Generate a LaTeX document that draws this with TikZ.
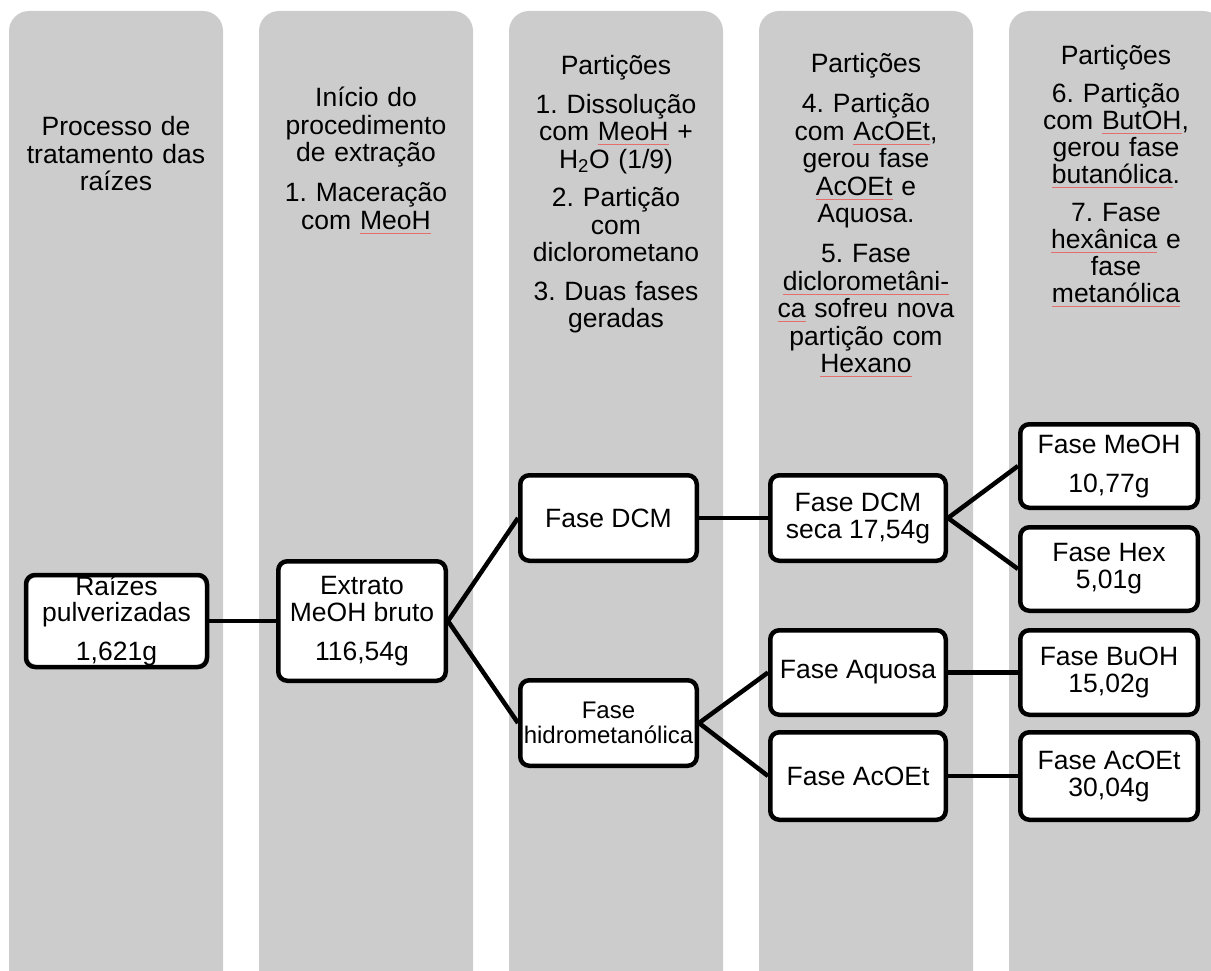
\documentclass[tikz,border=0pt]{standalone}
\usepackage{fontspec}
\setmainfont{Liberation Sans}
\frenchspacing
\definecolor{colgray}{RGB}{204,204,204}
\definecolor{squig}{RGB}{226,110,110}
\newcommand\sq[1]{\leavevmode\setbox0=\hbox{#1}\rlap{\textcolor{squig}{\rule[-4pt]{\wd0}{0.9pt}}}#1}
\begin{document}
\begin{tikzpicture}[x=1pt,y=-1pt,
  colbg/.style={fill=colgray, rounded corners=20pt},
  hdr/.style={anchor=base, text width=212pt, align=center, inner sep=0pt, font=\fontsize{26.5}{27.5}\selectfont},
  box/.style={fill=white, draw=black, line width=4.5pt, rounded corners=9pt, align=center, inner sep=0pt, font=\fontsize{26.5}{27}\selectfont},
  boxtxt/.style={align=center, inner sep=0pt, font=\fontsize{26.5}{26}\selectfont},
  border/.style={draw=black, line width=4.5pt, rounded corners=9pt},
  link/.style={line width=4.5pt}]
\useasboundingbox (0,0) rectangle (1211,971);
\clip (0,0) rectangle (1211,971);
% columns
\foreach \k in {0,...,4}{
  \fill[colbg] (9+250*\k,11) rectangle (223+250*\k,995);
}
% header texts
\node[hdr] (h1) at (116,136) {Processo de\\tratamento das\\raízes};
\node[hdr] (h2) at (366,107) {Início do\\procedimento\\de extração\\[12.5pt]1. Maceração\\com \sq{MeoH}};
\node[hdr] (h3) at (616,75) {Partições\\[11pt]1. Dissolução\\com \sq{MeoH} +\\H\textsubscript{2}O (1/9)\\[11pt]2. Partição\\com\\diclorometano\\[11pt]3. Duas fases\\geradas};
\node[hdr] (h4) at (866,73) {Partições\\[12.5pt]4. Partição\\com \sq{AcOEt},\\gerou fase\\\sq{AcOEt} e\\Aquosa.\\[12.5pt]5. Fase\\\sq{diclorometâni-}\\\sq{ca} sofreu nova\\partição com\\\sq{Hexano}};
\node[hdr, font=\fontsize{26.5}{27}\selectfont] (h5) at (1116,65) {Partições\\[11pt]6. Partição\\com \sq{ButOH},\\gerou fase\\\sq{butanólica}.\\[11pt]7. Fase\\\sq{hexânica} e\\fase\\\sq{metanólica}};
% boxes
\node[box, draw=none, minimum width=176.5pt, minimum height=87.5pt] (raiz) at (116.5,621) {};
\node[box, minimum width=167.5pt, minimum height=119.5pt] (extr) at (362,621) {Extrato\\MeOH bruto\\[12pt]116,54g};
\node[box, minimum width=176.5pt, minimum height=85.5pt] (dcm) at (608.5,518) {Fase DCM};
\node[box, minimum width=176.5pt, minimum height=85.5pt, font=\fontsize{24}{25}\selectfont] (hidro) at (608.5,723) {Fase\\hidrometanólica};
\node[box, minimum width=175.5pt, minimum height=85.5pt] (dcms) at (858,518) {Fase DCM\\seca 17,54g};
\node[box, minimum width=175.5pt, minimum height=84.5pt] (aquo) at (858,672.5) {Fase Aquosa};
\node[box, minimum width=175.5pt, minimum height=87.5pt] (acoet) at (858,776) {Fase AcOEt};
\node[box, minimum width=177.5pt, minimum height=83.5pt] (meoh) at (1109,466) {Fase MeOH\\[12pt]10,77g};
\node[box, minimum width=177.5pt, minimum height=83.5pt] (hex) at (1109,569) {Fase Hex\\5,01g};
\node[box, minimum width=177.5pt, minimum height=84.5pt] (buoh) at (1109,672.5) {Fase BuOH\\15,02g};
\node[box, minimum width=177.5pt, minimum height=87.5pt] (acoet2) at (1109,776) {Fase AcOEt\\30,04g};
% text of first box, overlapped by its border
\node[boxtxt] (raiztxt) at (raiz.center) {Raízes\\pulverizadas\\[13pt]1,621g};
\draw[border] (raiz.north west) rectangle (raiz.south east);
% connectors
\draw[link] (raiz.east) -- (extr.west);
\draw[link] (extr.east) -- (dcm.west);
\draw[link] (extr.east) -- (hidro.west);
\draw[link] (dcm.east) -- (dcms.west);
\draw[link] (hidro.east) -- (aquo.west);
\draw[link] (hidro.east) -- (acoet.west);
\draw[link] (dcms.east) -- (meoh.west);
\draw[link] (dcms.east) -- (hex.west);
\draw[link] (aquo.east) -- (buoh.west);
\draw[link] (acoet.east) -- (acoet2.west);
\end{tikzpicture}
\end{document}
